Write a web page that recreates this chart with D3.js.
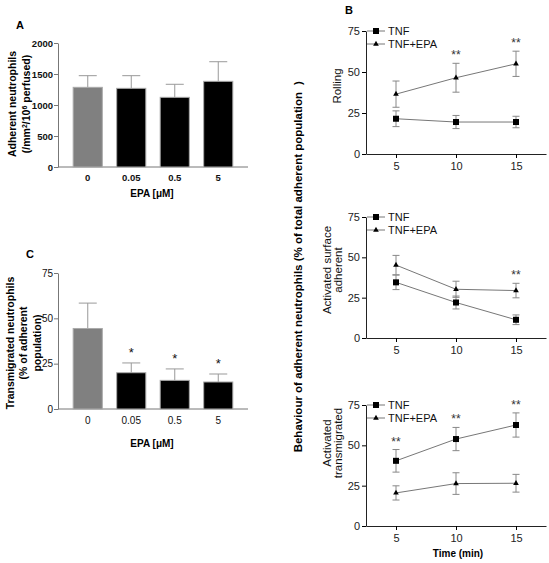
<!DOCTYPE html>
<html><head><meta charset="utf-8">
<script src="https://cdn.jsdelivr.net/npm/d3@7"></script>
<style>body{margin:0;background:#fff}svg{display:block;font-family:"Liberation Sans",Arial,sans-serif}</style>
</head><body><svg id="c" width="549" height="563"></svg>
<script>
// ---- data ----
const doseCats = ["0","0.05","0.5","5"];
const adherentMean = [1285,1269,1124,1382];
const adherentErr = [188,204,210,316];
const adherentTicks = [0,500,1000,1500,2000];
const transMean = [44.4,20.0,15.8,14.9];
const transErr = [14.0,5.4,6.3,4.4];
const transSig = ["","*","*","*"];
const pctTicks = [0,25,50,75];
const times = [5,10,15];
const seriesNames = ["TNF","TNF+EPA"];
const rollTNF = [21.5,19.5,19.5], rollTNFErr = [4.8,4.0,3.5];
const rollEPA = [36.5,46.5,55.0], rollEPAErr = [8.0,8.8,7.7];
const rollSig = ["","**","**"];
const surfTNF = [34.5,22.0,11.3], surfTNFErr = [4.5,4.0,3.0];
const surfEPA = [45.2,30.2,29.4], surfEPAErr = [6.0,5.0,4.5];
const surfSig = ["","","**"];
const tmTNF = [40.4,53.9,62.6], tmTNFErr = [7.0,7.2,7.5];
const tmEPA = [20.5,26.3,26.5], tmEPAErr = [4.4,6.7,5.5];
const tmSig = ["**","**","**"];

const svg = d3.select("#c");

function barPanel(o){
  const g = svg.append("g");
  const x = d3.scalePoint().domain(doseCats).range([66,240]).padding(0.5);
  const y = d3.scaleLinear().domain(o.domain).range([o.y0,o.y1]);
  const bw = x.step()*0.67;
  const ya = g.append("g").attr("transform","translate(58,0)")
    .call(d3.axisLeft(y).tickValues(o.ticks).tickFormat(d3.format("d")).tickSize(4).tickSizeOuter(0).tickPadding(1));
  ya.select(".domain").attr("stroke","#777");
  ya.selectAll(".tick line").attr("stroke","#777");
  ya.selectAll("text").attr("font-size",o.tickSize).attr("font-weight",o.tickBold?"bold":"normal").attr("fill","#111").attr("font-family","Liberation Sans, Arial");
  g.append("line").attr("x1",58).attr("x2",248).attr("y1",o.y0).attr("y2",o.y0).attr("stroke","#777");
  doseCats.forEach((c,i)=>{
    const cx = x(c), v = o.mean[i], e = o.err[i];
    g.append("line").attr("x1",cx).attr("x2",cx).attr("y1",y(v)).attr("y2",y(v+e)).attr("stroke","#999");
    g.append("line").attr("x1",cx-9).attr("x2",cx+9).attr("y1",y(v+e)).attr("y2",y(v+e)).attr("stroke","#999");
    g.append("rect").attr("x",cx-bw/2).attr("width",bw).attr("y",y(v)).attr("height",o.y0-y(v))
      .attr("fill",i===0?"#808080":"#000").attr("stroke","#aaa").attr("stroke-width",1);
    g.append("text").attr("x",cx).attr("y",o.xLabY).attr("text-anchor","middle")
      .attr("font-size",o.tickSize).attr("font-weight",o.tickBold?"bold":"normal").attr("fill","#111").text(c);
    if(o.sig && o.sig[i]) g.append("text").attr("x",cx).attr("y",y(v+e)-6).attr("text-anchor","middle")
      .attr("font-size",13).attr("fill","#111").text(o.sig[i]);
  });
  g.append("text").attr("x",152).attr("y",o.titleY).attr("text-anchor","middle").attr("font-size",10)
    .attr("font-weight","bold").text("EPA [\u03BCM]");
  o.ylab.forEach((t,k)=>{
    g.append("text").attr("transform",`translate(${o.ylabX+k*o.ylabGap},${o.ylabC}) rotate(-90)`)
      .attr("text-anchor","middle").attr("font-size",10.5).attr("font-weight","bold").html(t);
  });
  g.append("text").attr("x",o.letterX).attr("y",o.letterY).attr("font-size",11).attr("font-weight","bold").text(o.letter);
}

barPanel({domain:[0,2000],y0:167,y1:43,ticks:adherentTicks,tickSize:9.5,tickBold:true,mean:adherentMean,err:adherentErr,
  xLabY:181,titleY:197,ylabX:16,ylabGap:14,ylabC:104,
  ylab:["Adherent neutrophils",'(/mm<tspan baseline-shift="super" font-size="7">2</tspan>/10<tspan baseline-shift="super" font-size="7">6</tspan> perfused)'],
  letter:"A",letterX:16,letterY:29});
barPanel({domain:[0,75],y0:409,y1:273,ticks:pctTicks,tickSize:10,tickBold:false,mean:transMean,err:transErr,sig:transSig,
  xLabY:424,titleY:447,ylabX:14,ylabGap:13.3,ylabC:343,
  ylab:["Transmigrated neutrophils","(% of adherent","population)"],
  letter:"C",letterX:26,letterY:258});

function linePanel(o){
  const g = svg.append("g");
  const x = d3.scaleLinear().domain([2.5,17.5]).range([366,546]);
  const y = d3.scaleLinear().domain([0,75]).range([o.y0,o.y1]);
  const ya = g.append("g").attr("transform","translate(366,0)")
    .call(d3.axisLeft(y).tickValues(pctTicks).tickSize(4).tickSizeOuter(0).tickPadding(2));
  ya.selectAll("text").attr("font-size",11).attr("fill","#222").attr("font-family","Liberation Sans, Arial");
  ya.select(".domain").attr("stroke","#222");
  const xa = g.append("g").attr("transform",`translate(0,${o.y0})`)
    .call(d3.axisBottom(x).tickValues(times).tickSize(4).tickSizeOuter(0).tickPadding(4));
  xa.selectAll("text").attr("font-size",11).attr("fill","#222").attr("font-family","Liberation Sans, Arial");
  xa.select(".domain").attr("stroke","#222");
  const line = d3.line().x((d,i)=>x(times[i])).y(d=>y(d));
  const series = [{m:o.tnf,e:o.tnfErr,shape:"sq"},{m:o.epa,e:o.epaErr,shape:"tri"}];
  series.forEach(s=>{
    g.append("path").attr("d",line(s.m)).attr("fill","none").attr("stroke","#777").attr("stroke-width",1);
    s.m.forEach((v,i)=>{
      const cx = x(times[i]);
      const e = s.e[i];
      g.append("line").attr("x1",cx).attr("x2",cx).attr("y1",y(v-e)).attr("y2",y(v+e)).attr("stroke","#888");
      [v-e,v+e].forEach(w=>g.append("line").attr("x1",cx-3.5).attr("x2",cx+3.5).attr("y1",y(w)).attr("y2",y(w)).attr("stroke","#888"));
      drawMarker(g,s.shape,cx,y(v));
    });
  });
  o.sig.forEach((s,i)=>{
    if(!s) return;
    const top = Math.max(o.tnf[i]+o.tnfErr[i], o.epa[i]+o.epaErr[i]);
    g.append("text").attr("x",x(times[i])).attr("y",y(top)-4).attr("text-anchor","middle")
      .attr("font-size",12).attr("fill","#333").text(s);
  });
  seriesNames.forEach((n,k)=>{
    const ly = o.y1 + k*13;
    g.append("line").attr("x1",367).attr("x2",385).attr("y1",ly).attr("y2",ly).attr("stroke","#777");
    drawMarker(g,k===0?"sq":"tri",376,ly);
    g.append("text").attr("x",388).attr("y",ly+4).attr("font-size",11).attr("fill","#111").text(n);
  });
  o.ylab.forEach((t,k)=>{
    g.append("text").attr("transform",`translate(${o.ylabX+k*11},${o.ylabC}) rotate(-90)`)
      .attr("text-anchor","middle").attr("font-size",11.5).attr("fill","#111").text(t);
  });
}
function drawMarker(g,shape,cx,cy){
  if(shape==="sq") g.append("rect").attr("x",cx-3).attr("y",cy-3).attr("width",6).attr("height",6).attr("fill","#000");
  else g.append("path").attr("d",d3.symbol(d3.symbolTriangle,14)()).attr("transform",`translate(${cx},${cy})`).attr("fill","#000");
}

linePanel({y0:154,y1:31,tnf:rollTNF,tnfErr:rollTNFErr,epa:rollEPA,epaErr:rollEPAErr,sig:rollSig,ylab:["Rolling"],ylabX:341,ylabC:86});
linePanel({y0:338,y1:217,tnf:surfTNF,tnfErr:surfTNFErr,epa:surfEPA,epaErr:surfEPAErr,sig:surfSig,ylab:["Activated surface","adherent"],ylabX:331,ylabC:270});
linePanel({y0:526,y1:405,tnf:tmTNF,tnfErr:tmTNFErr,epa:tmEPA,epaErr:tmEPAErr,sig:tmSig,ylab:["Activated","transmigrated"],ylabX:331,ylabC:443});

svg.append("text").attr("x",345).attr("y",14).attr("font-size",11).attr("font-weight","bold").text("B");
svg.append("text").attr("x",458).attr("y",557).attr("text-anchor","middle").attr("font-size",10).attr("font-weight","bold").text("Time (min)");
svg.append("text").attr("transform","translate(302,92) rotate(-90)").attr("text-anchor","end").attr("font-size",11.5).attr("font-weight","bold")
  .text("Behaviour of adherent neutrophils (% of total adherent population");
svg.append("text").attr("transform","translate(302,85) rotate(-90)").attr("font-size",11.5).attr("font-weight","bold").text(")");
</script></body></html>
